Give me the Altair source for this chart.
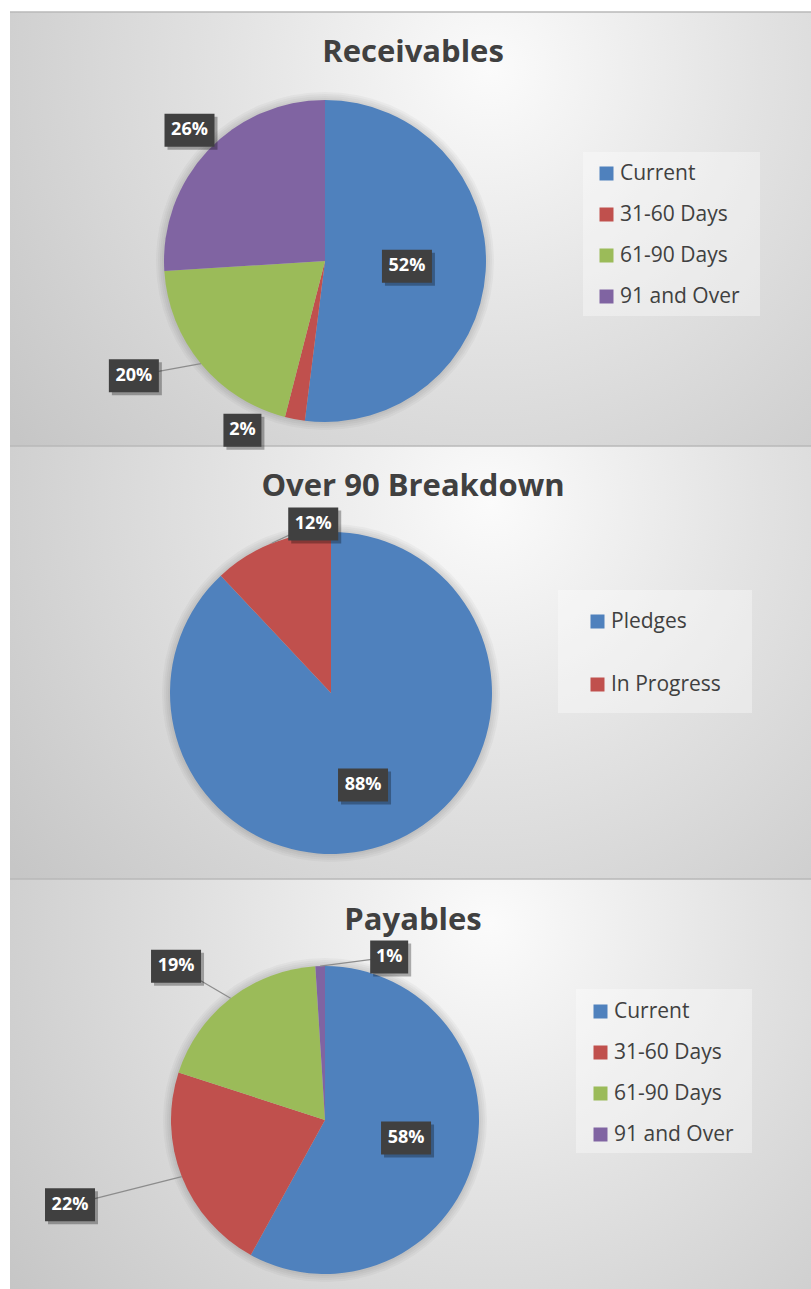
import math
import altair as alt
import pandas as pd

# ---------------- data ----------------
rec_cats = ["Current", "31-60 Days", "61-90 Days", "91 and Over"]
rec_vals = [52, 2, 20, 26]
o90_cats = ["Pledges", "In Progress"]
o90_vals = [88, 12]
pay_cats = ["Current", "31-60 Days", "61-90 Days", "91 and Over"]
pay_vals = [58, 22, 19, 1]
titles = ["Receivables", "Over 90 Breakdown", "Payables"]

# ---------------- style / layout ----------------
COLORS4 = ["#4f81bd", "#c0504d", "#9bbb59", "#8064a2"]
COLORS2 = ["#4f81bd", "#c0504d"]
FONT = "Open Sans"
TXT = "#404040"
W, H = 811, 1289
PX0 = 10

panels = [
    dict(cats=rec_cats, vals=rec_vals, colors=COLORS4, y0=12, y1=446,
         cx=325, cy=261, R=161, ty=53,
         box=(583, 152, 760, 316), lx=596, ly=163, rowpad=19,
         # (angle nudge deg, radius factor, leader line)
         labels=[(0, 0.51, False), (15.2, 1.17, False), (8.6, 1.385, True), (0.8, 1.17, False)]),
    dict(cats=o90_cats, vals=o90_vals, colors=COLORS2, y0=446, y1=879,
         cx=331, cy=693, R=161, ty=487,
         box=(558, 590, 752, 713), lx=587, ly=611, rowpad=41,
         labels=[(2.4, 0.605, False), (15.6, 1.056, True)]),
    dict(cats=pay_cats, vals=pay_vals, colors=COLORS4, y0=879, y1=1289,
         cx=325, cy=1120, R=154, ty=921,
         box=(576, 989, 752, 1153), lx=590, ly=1001, rowpad=19,
         labels=[(-1.9, 0.539, False), (3.2, 1.745, True), (-6.3, 1.39, True), (23.3, 1.137, True)]),
]

# ---------------- derived tables ----------------
bg_rows, title_rows, lbl_rows, lead_rows, lbox_rows = [], [], [], [], []
for i, p in enumerate(panels):
    bg_rows.append(dict(x0=PX0, x1=W, y0=p["y0"], y1=p["y1"]))
    title_rows.append(dict(t=titles[i], x=413, y=p["ty"]))
    b = p["box"]
    lbox_rows.append(dict(x0=b[0], y0=b[1], x1=b[2], y1=b[3]))
    total = sum(p["vals"])
    cum = 0
    for v, (nudge, rf, lead) in zip(p["vals"], p["labels"]):
        mid = (cum + v / 2) / total * 2 * math.pi
        cum += v
        a = mid + math.radians(nudge)
        r = rf * p["R"]
        lx = p["cx"] + r * math.sin(a)
        ly = p["cy"] - r * math.cos(a)
        txt = f"{round(v / total * 100)}%"
        bw = 12 * len(txt) + 14
        bh = 33
        lbl_rows.append(dict(t=txt, x=lx, y=ly, x0=lx - bw / 2, x1=lx + bw / 2,
                             y0=ly - bh / 2, y1=ly + bh / 2,
                             sx0=lx - bw / 2 + 3, sx1=lx + bw / 2 + 3,
                             sy0=ly - bh / 2 + 3, sy1=ly + bh / 2 + 3))
        if lead:
            ex = p["cx"] + p["R"] * math.sin(mid)
            ey = p["cy"] - p["R"] * math.cos(mid)
            lead_rows.append(dict(x=ex, y=ey, x2=lx, y2=ly))

bg_df = pd.DataFrame(bg_rows)
title_df = pd.DataFrame(title_rows)
lbl_df = pd.DataFrame(lbl_rows)
lead_df = pd.DataFrame(lead_rows)
lbox_df = pd.DataFrame(lbox_rows)

def X(f):
    return alt.X(f, type="quantitative", scale=None, axis=None)

def Y(f):
    return alt.Y(f, type="quantitative", scale=None, axis=None)

grad = alt.Gradient(
    gradient="radial",
    stops=[alt.GradientStop(color="#fbfbfb", offset=0),
           alt.GradientStop(color="#e2e2e2", offset=0.45),
           alt.GradientStop(color="#c6c6c6", offset=1)],
    x1=0.6, y1=0.3, r1=0, x2=0.6, y2=0.3, r2=0.75,
)

bg = alt.Chart(bg_df).mark_rect(fill=grad).encode(
    x=X("x0"), x2="x1", y=Y("y0"), y2="y1")
border = alt.Chart(bg_df).mark_rule(color="#b8b8b8", strokeWidth=1.5).encode(
    x=X("x0"), x2="x1", y=Y("y0"))
lbox = alt.Chart(lbox_df).mark_rect(fill="#ffffff", opacity=0.35).encode(
    x=X("x0"), x2="x1", y=Y("y0"), y2="y1")

layers = [bg, border, lbox]

one = pd.DataFrame({"v": [1]})
for p in panels:
    for k in [2, 4, 6, 8]:
        glow = alt.Chart(one).mark_arc(color="#000000", opacity=0.03,
                                        outerRadius=p["R"] + k).encode(
            x=alt.value(p["cx"]), y=alt.value(p["cy"]), theta=alt.Theta("v:Q"))
        layers.append(glow)

for p in panels:
    df = pd.DataFrame({"cat": p["cats"], "val": p["vals"], "idx": list(range(len(p["cats"])))})
    pie = alt.Chart(df).mark_arc(outerRadius=p["R"]).encode(
        x=alt.value(p["cx"]), y=alt.value(p["cy"]),
        theta=alt.Theta("val:Q", stack=True),
        order=alt.Order("idx:Q"),
        color=alt.Color("cat:N",
                        scale=alt.Scale(domain=p["cats"], range=p["colors"]),
                        legend=alt.Legend(
                            orient="none", legendX=p["lx"], legendY=p["ly"],
                            title=None, padding=0, symbolType="square",
                            symbolSize=196, symbolStrokeWidth=0,
                            labelFont=FONT, labelFontSize=21, labelColor=TXT,
                            labelOffset=3, rowPadding=p["rowpad"],
                            labelLimit=300)),
    )
    layers.append(pie)

leaders = alt.Chart(lead_df).mark_rule(color="#8c8c8c", strokeWidth=1.2).encode(
    x=X("x"), y=Y("y"), x2="x2", y2="y2")
shadow = alt.Chart(lbl_df).mark_rect(fill="#000000", opacity=0.3).encode(
    x=X("sx0"), x2="sx1", y=Y("sy0"), y2="sy1")
boxes = alt.Chart(lbl_df).mark_rect(fill="#404040").encode(
    x=X("x0"), x2="x1", y=Y("y0"), y2="y1")
ltext = alt.Chart(lbl_df).mark_text(font=FONT, fontSize=18, fontWeight="bold",
                                     color="#ffffff", baseline="middle", align="center").encode(
    x=X("x"), y=Y("y"), text="t:N")
ttext = alt.Chart(title_df).mark_text(font=FONT, fontSize=31, fontWeight="bold",
                                      color=TXT, baseline="middle", align="center").encode(
    x=X("x"), y=Y("y"), text="t:N")

layers += [leaders, shadow, boxes, ltext, ttext]

chart = alt.layer(*layers).resolve_scale(
    theta="independent", color="independent"
).properties(
    width=W, height=H, autosize=alt.AutoSizeParams(type="none"), padding=0,
    background="#ffffff"
).configure_view(stroke=None)

chart.save("out.html", embed_options={"renderer": "svg", "actions": False})
